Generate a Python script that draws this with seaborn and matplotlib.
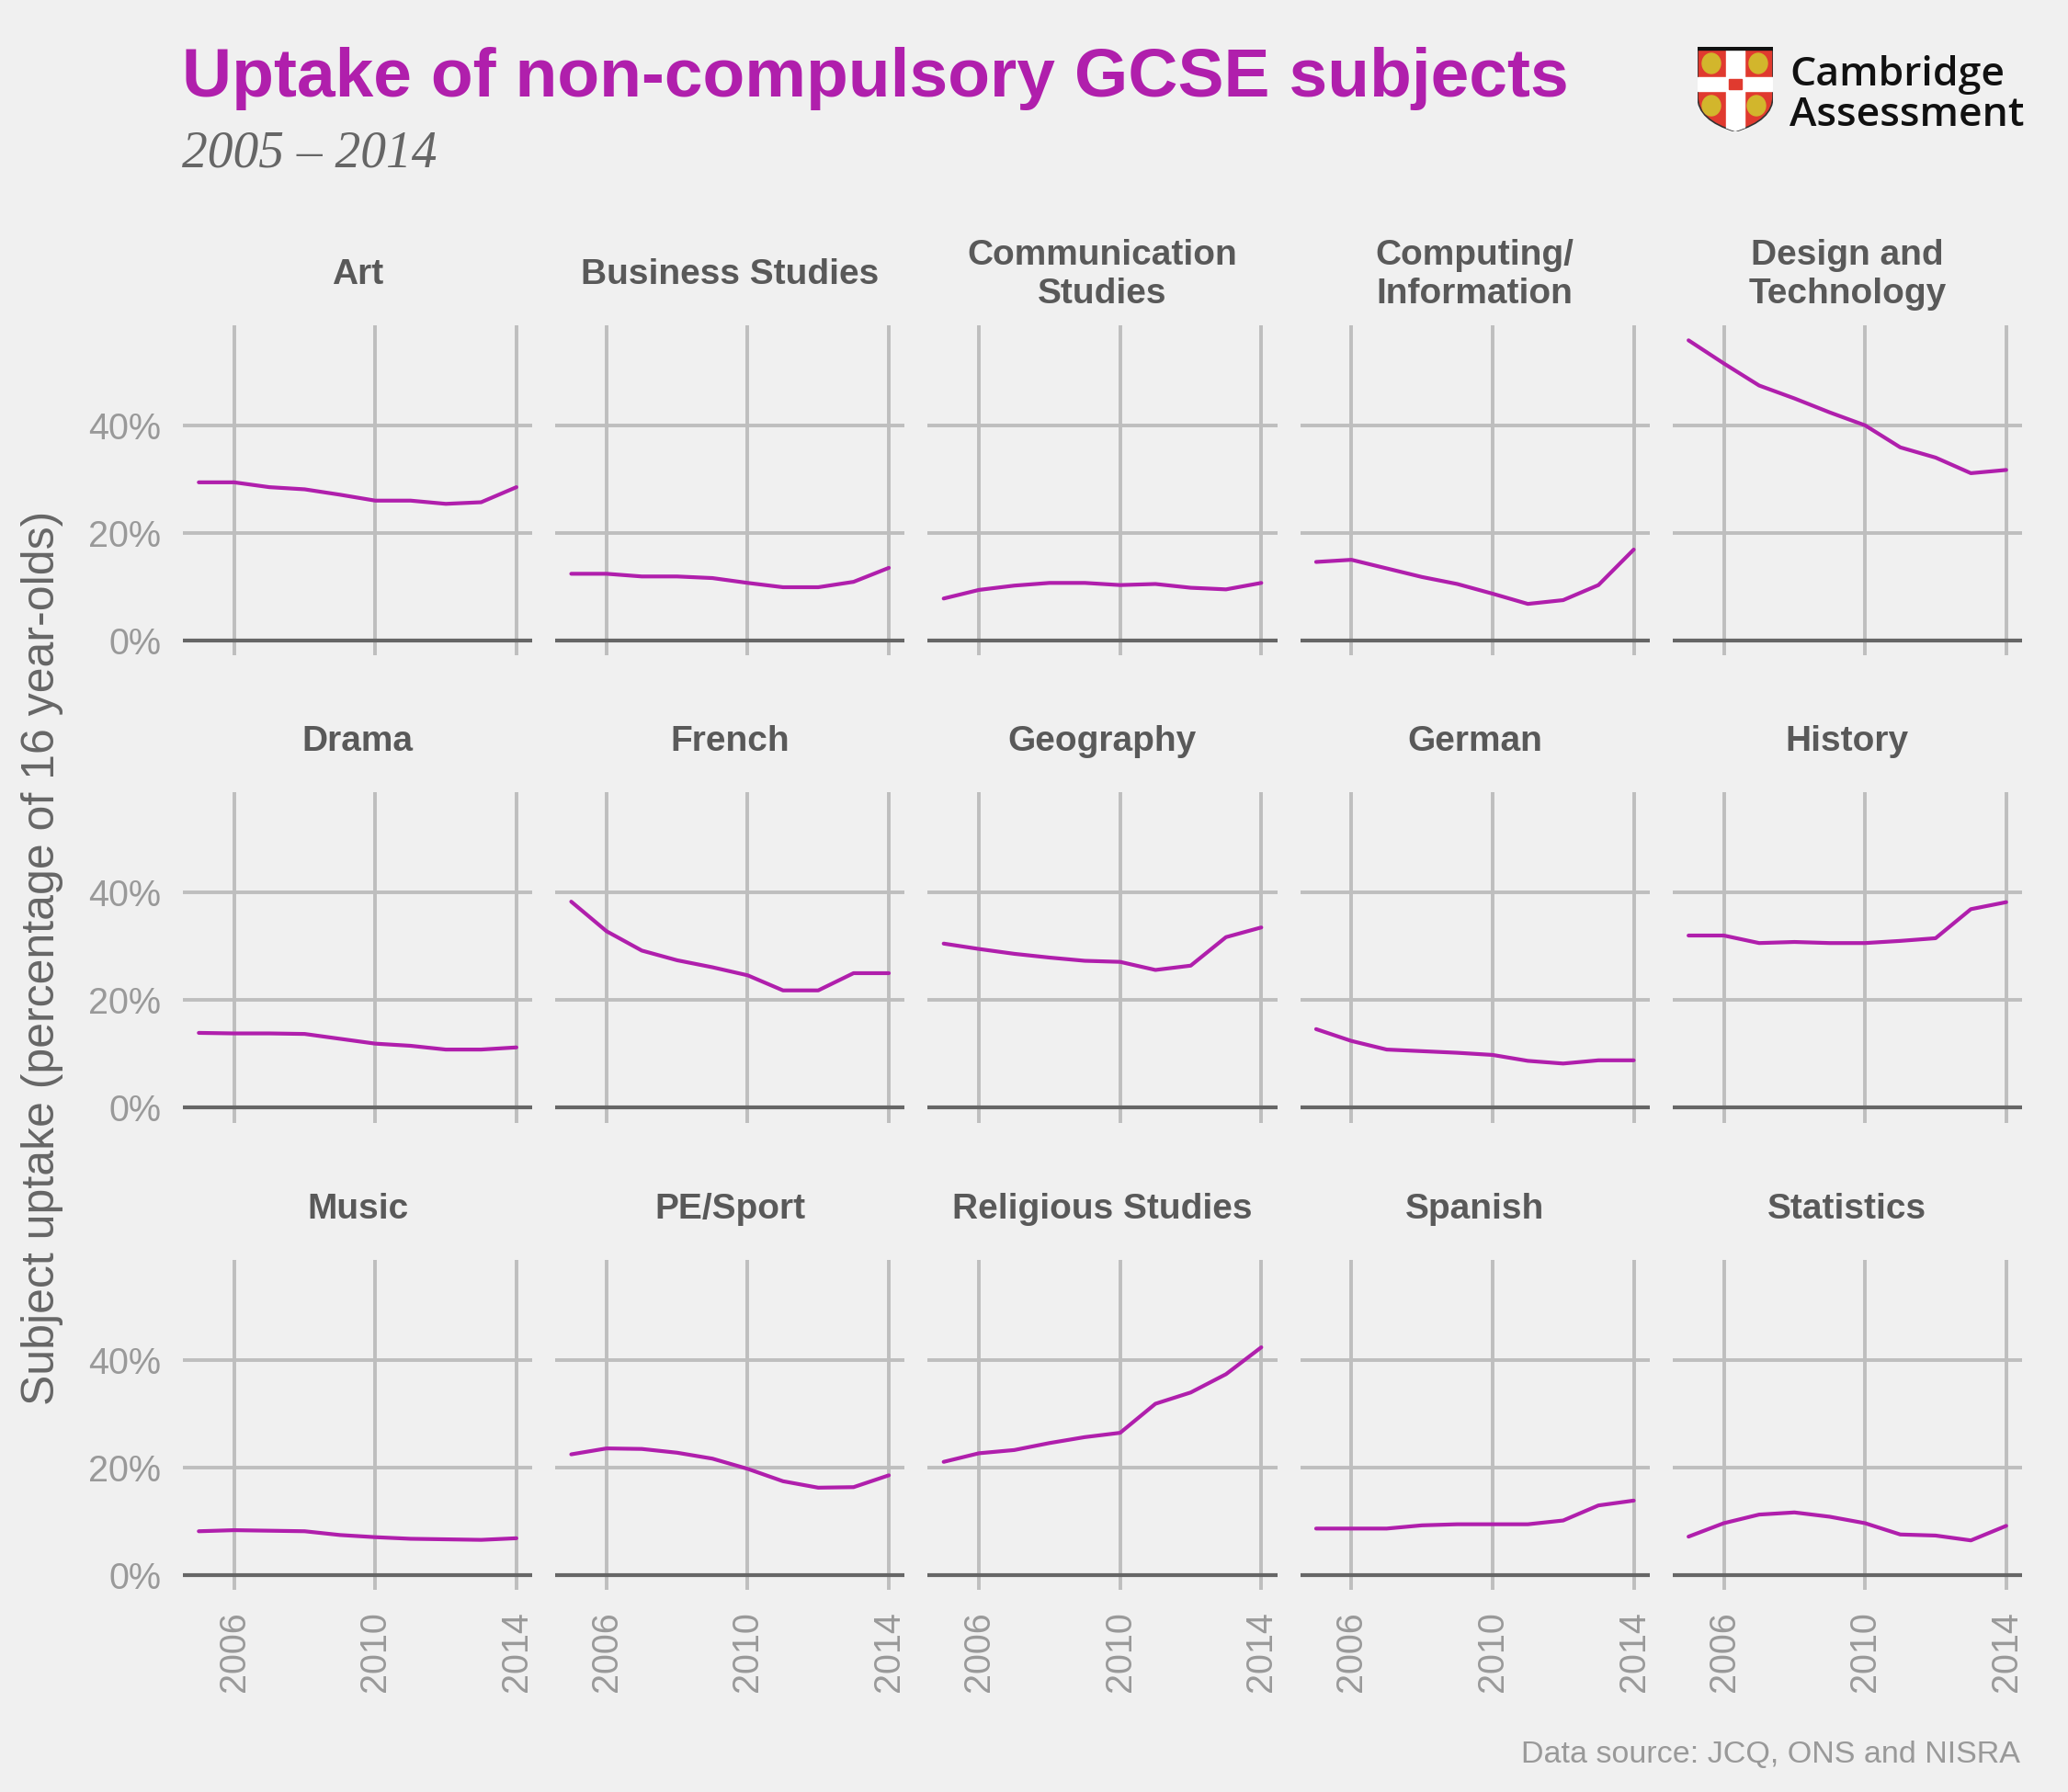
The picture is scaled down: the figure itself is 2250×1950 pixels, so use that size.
import numpy as np
import pandas as pd
import matplotlib
matplotlib.use('Agg')
import matplotlib.pyplot as plt
import matplotlib.ticker as mticker
from matplotlib.path import Path
from matplotlib.patches import PathPatch, Rectangle, Ellipse
import seaborn as sns

# values (percentage of 16 year-olds)
years = list(range(2005, 2015))
subjects = ['Art', 'Business Studies', 'Communication\nStudies', 'Computing/\nInformation',
            'Design and\nTechnology', 'Drama', 'French', 'Geography', 'German', 'History',
            'Music', 'PE/Sport', 'Religious Studies', 'Spanish', 'Statistics']

art = [29.4, 29.4, 28.5, 28.1, 27.1, 26.0, 26.0, 25.4, 25.7, 28.5]
business = [12.4, 12.4, 11.9, 11.9, 11.6, 10.7, 9.9, 9.9, 10.9, 13.5]
communication = [7.8, 9.4, 10.2, 10.7, 10.7, 10.3, 10.5, 9.8, 9.5, 10.7]
computing = [14.6, 15.0, 13.4, 11.8, 10.5, 8.7, 6.8, 7.5, 10.3, 16.9]
design_tech = [55.8, 51.5, 47.4, 45.0, 42.4, 40.0, 35.9, 34.0, 31.1, 31.7]
drama = [13.9, 13.8, 13.8, 13.7, 12.8, 11.9, 11.5, 10.8, 10.8, 11.2]
french = [38.3, 32.8, 29.2, 27.4, 26.1, 24.6, 21.8, 21.8, 25.0, 25.0]
geography = [30.5, 29.5, 28.6, 27.9, 27.3, 27.1, 25.6, 26.4, 31.7, 33.5]
german = [14.6, 12.4, 10.8, 10.5, 10.2, 9.8, 8.7, 8.2, 8.8, 8.8]
history = [32.0, 32.0, 30.6, 30.8, 30.6, 30.6, 31.0, 31.5, 36.9, 38.2]
music = [8.1, 8.3, 8.2, 8.1, 7.4, 7.0, 6.7, 6.6, 6.5, 6.8]
pe_sport = [22.4, 23.5, 23.4, 22.7, 21.6, 19.7, 17.4, 16.2, 16.3, 18.5]
religious = [21.0, 22.6, 23.2, 24.5, 25.6, 26.4, 31.8, 33.9, 37.3, 42.3]
spanish = [8.6, 8.6, 8.6, 9.2, 9.4, 9.4, 9.4, 10.1, 12.9, 13.8]
statistics = [7.1, 9.6, 11.2, 11.6, 10.8, 9.6, 7.5, 7.3, 6.4, 9.1]

series = [art, business, communication, computing, design_tech, drama, french, geography,
          german, history, music, pe_sport, religious, spanish, statistics]

x_ticks = [2006, 2010, 2014]
y_ticks = [0, 20, 40]

df = pd.DataFrame({
    'subject': np.repeat(subjects, len(years)),
    'year': years * len(subjects),
    'uptake': np.concatenate(series),
})

bg = '#f0f0f0'
purple = '#b01fac'

sns.set_theme(style='whitegrid', rc={
    'axes.facecolor': bg, 'figure.facecolor': bg, 'savefig.facecolor': bg,
    'grid.color': '#bebebe', 'grid.linewidth': 2.8,
    'axes.edgecolor': bg,
})
plt.rcParams['font.family'] = ['Liberation Sans', 'DejaVu Sans']

fig, axes = plt.subplots(3, 5, figsize=(22.5, 19.5), dpi=100, sharex=True, sharey=True)
fig.subplots_adjust(left=199 / 2250, right=2200 / 2250, top=1 - 354 / 1950,
                    bottom=1 - 1730 / 1950, wspace=0.066, hspace=0.415)

# ggplot-like 5% expansion, with 0 included in the range
y_hi = df['uptake'].max()
y_pad = 0.05 * y_hi
x_pad = 0.05 * (max(years) - min(years))

for ax, name in zip(axes.flat, subjects):
    sub = df[df.subject == name]
    sns.lineplot(data=sub, x='year', y='uptake', ax=ax, color=purple, lw=3.0, zorder=3)
    ax.axhline(0, color='#666666', lw=3.0, zorder=2)
    ax.set_xlim(min(years) - x_pad, max(years) + x_pad)
    ax.set_ylim(-y_pad, y_hi + y_pad)
    ax.set_xticks(x_ticks)
    ax.set_yticks(y_ticks)
    ax.yaxis.set_major_formatter(mticker.FuncFormatter(lambda v, p: f'{v:.0f}%'))
    ax.set_xlabel('')
    ax.set_ylabel('')
    ax.grid(True, which='major')
    for s in ax.spines.values():
        s.set_visible(False)
    ax.tick_params(length=0, pad=17, labelsize=28.5, labelcolor='#999999')
    ax.tick_params(axis='x', labelrotation=90)
    ax.text(0.5, 1 + 55 / 359, name, transform=ax.transAxes, ha='center', va='center',
            fontsize=28, fontweight='bold', color='#595959', linespacing=1.2)

fig.text(198 / 2250, 1 - 105 / 1950, 'Uptake of non-compulsory GCSE subjects',
         fontsize=54, fontweight='bold', color=purple, va='baseline', ha='left')
fig.text(198 / 2250, 1 - 182 / 1950, '2005 \u2013 2014', fontsize=40, style='italic',
         family=['Liberation Serif', 'DejaVu Serif'], color='#666666', va='baseline', ha='left')
fig.text(46 / 2250, 1 - 1042 / 1950, 'Subject uptake (percentage of 16 year-olds)',
         rotation=90, fontsize=36, color='#666666', ha='center', va='center')
fig.text(2198 / 2250, 1 - 1918 / 1950, 'Data source: JCQ, ONS and NISRA',
         fontsize=24.5, color='#999999', ha='right', va='baseline')

# logo: simple shield + wordmark
lax = fig.add_axes([1847 / 2250, 1 - 143 / 1950, 82 / 2250, 92 / 1950])
lax.set_xlim(0, 82)
lax.set_ylim(0, 92)
lax.axis('off')
shield = Path([(0, 92), (82, 92), (82, 38), (82, 12), (41, 0), (0, 12), (0, 38), (0, 92)],
              [Path.MOVETO, Path.LINETO, Path.LINETO, Path.CURVE3, Path.CURVE3,
               Path.CURVE3, Path.CURVE3, Path.CLOSEPOLY])
outline = PathPatch(shield, facecolor='#e03a2f', edgecolor='#333333', lw=1.2, zorder=1)
lax.add_patch(outline)
parts = [Rectangle((31, 0), 20, 92, color='white'),
         Rectangle((0, 44), 82, 15, color='white'),
         Rectangle((34, 46), 14, 11, color='#e03a2f'),
         Ellipse((15, 74), 20, 22, color='#d2b62c'),
         Ellipse((66, 74), 20, 22, color='#d2b62c'),
         Ellipse((15, 28), 20, 22, color='#d2b62c'),
         Ellipse((64, 28), 20, 22, color='#d2b62c'),
         Rectangle((0, 89), 82, 3, color='#111111')]
for p in parts:
    p.set_zorder(2)
    lax.add_patch(p)
    p.set_clip_path(outline)

fig.text(1947 / 2250, 1 - 93 / 1950, 'Cambridge', family=['Open Sans', 'DejaVu Sans'],
         fontsize=32, fontweight='semibold', color='#111111', va='baseline', ha='left')
fig.text(1947 / 2250, 1 - 137 / 1950, 'Assessment', family=['Open Sans', 'DejaVu Sans'],
         fontsize=32, fontweight='semibold', color='#111111', va='baseline', ha='left')

fig.savefig('out.png', dpi=100, facecolor=bg)
